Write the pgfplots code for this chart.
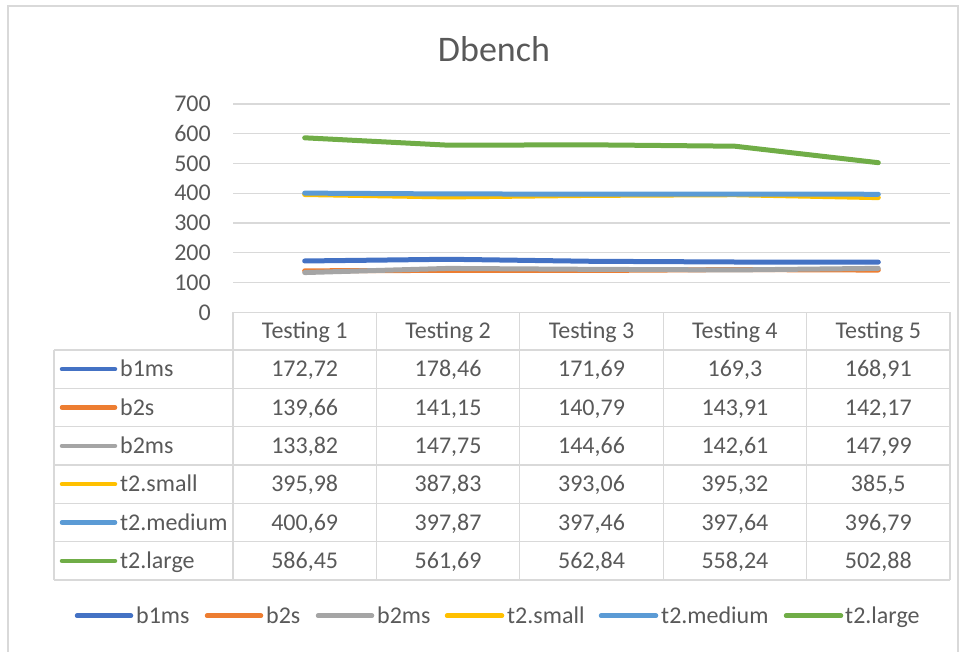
\documentclass[border=0pt]{standalone}
\usepackage{fontspec}
\setmainfont{Carlito}
\usepackage{pgfplots}
\usepackage{pgfplotstable}
\pgfplotsset{compat=1.18}
\definecolor{txt}{HTML}{595959}
\definecolor{grd}{HTML}{D9D9D9}
\definecolor{cA}{HTML}{4472C4}
\definecolor{cB}{HTML}{ED7D31}
\definecolor{cC}{HTML}{A5A5A5}
\definecolor{cD}{HTML}{FFC000}
\definecolor{cE}{HTML}{5B9BD5}
\definecolor{cF}{HTML}{70AD47}
\pgfplotstableread{
x b1ms b2s b2ms t2small t2medium t2large
0 172.72 139.66 133.82 395.98 400.69 586.45
1 178.46 141.15 147.75 387.83 397.87 561.69
2 171.69 140.79 144.66 393.06 397.46 562.84
3 169.30 143.91 142.61 395.32 397.64 558.24
4 168.91 142.17 147.99 385.50 396.79 502.88
}\data
\begin{document}
\begin{tikzpicture}[x=1pt,y=1pt,
  cell/.style={inner sep=0pt, text height=15.2pt, text depth=0pt, text=txt, font=\fontsize{24}{28}\selectfont}]
\useasboundingbox (0,0) rectangle (968,-651);
\draw[grd, line width=1.3pt] (8,-6) rectangle (958,-680);
\node[inner sep=0pt, text height=23.2pt, text depth=0pt, text=txt, font=\fontsize{36}{40}\selectfont] at (494,-50.3) {Dbench};
\begin{axis}[at={(233pt,-312.4pt)}, anchor=south west,
  scale only axis, width=717pt, height=208.4pt,
  xmin=-0.5, xmax=4.5, ymin=0, ymax=700,
  axis line style={draw=none}, tick style={draw=none}, major tick length=0pt,
  xtick=\empty, ytick={0,100,...,700},
  ymajorgrids, grid style={grd, line width=1.2pt},
  tick label style={font=\fontsize{24}{28}\selectfont, text=txt},
  yticklabel style={inner sep=0pt, anchor=east, xshift=-22pt, text height=15.2pt, text depth=0pt},
  /pgf/number format/assume math mode=true,
  clip=false,
  every axis plot/.append style={line width=5pt, line cap=round, line join=round, no markers}]
\addplot[cA] table[x=x,y=b1ms]{\data};
\addplot[cB] table[x=x,y=b2s]{\data};
\addplot[cC] table[x=x,y=b2ms]{\data};
\addplot[cD] table[x=x,y=t2small]{\data};
\addplot[cE] table[x=x,y=t2medium]{\data};
\addplot[cF] table[x=x,y=t2large]{\data};
\end{axis}
% data table grid
\draw[grd, line width=1.3pt] (233,-312.4) -- (950,-312.4);
\foreach \k in {0,...,5} \draw[grd, line width=1.3pt] ({233+143.4*\k},-312.4) -- ({233+143.4*\k},-580);
\foreach \r in {0,...,6} \draw[grd, line width=1.3pt] (54,{-350-38.333*\r}) -- (950,{-350-38.333*\r});
\draw[grd, line width=1.3pt] (54,-350) -- (54,-580);
\foreach \k in {1,...,5} \node[cell] at ({233+143.4*(\k-0.5)},-331.2) {Testing \k};
\foreach \nm/\cl/\a/\b/\c/\d/\e [count=\i] in {
  b1ms/cA/{172,72}/{178,46}/{171,69}/{169,3}/{168,91},
  b2s/cB/{139,66}/{141,15}/{140,79}/{143,91}/{142,17},
  b2ms/cC/{133,82}/{147,75}/{144,66}/{142,61}/{147,99},
  t2.small/cD/{395,98}/{387,83}/{393,06}/{395,32}/{385,5},
  t2.medium/cE/{400,69}/{397,87}/{397,46}/{397,64}/{396,79},
  t2.large/cF/{586,45}/{561,69}/{562,84}/{558,24}/{502,88}}{
  \pgfmathsetmacro\yy{-350-38.333*(\i-0.5)}
  \draw[\cl, line width=4.5pt, line cap=round] (62,\yy) -- (115,\yy);
  \node[cell, anchor=west] at (120,\yy) {\nm};
  \node[cell] at (304.7,\yy) {\a};
  \node[cell] at (448.1,\yy) {\b};
  \node[cell] at (591.5,\yy) {\c};
  \node[cell] at (734.9,\yy) {\d};
  \node[cell] at (878.3,\yy) {\e};
}
% legend
\foreach \xa/\xb/\xt/\cl/\nm in {77/131/136/cA/b1ms, 207/261/266/cB/b2s, 318/372/377/cC/b2ms, 447/502/507/cD/t2.small, 601/656/661/cE/t2.medium, 786/841/845/cF/t2.large}{
  \draw[\cl, line width=4.5pt, line cap=round] (\xa,-615.7) -- (\xb,-615.7);
  \node[cell, anchor=west] at (\xt,-615.7) {\nm};
}
\end{tikzpicture}
\end{document}
